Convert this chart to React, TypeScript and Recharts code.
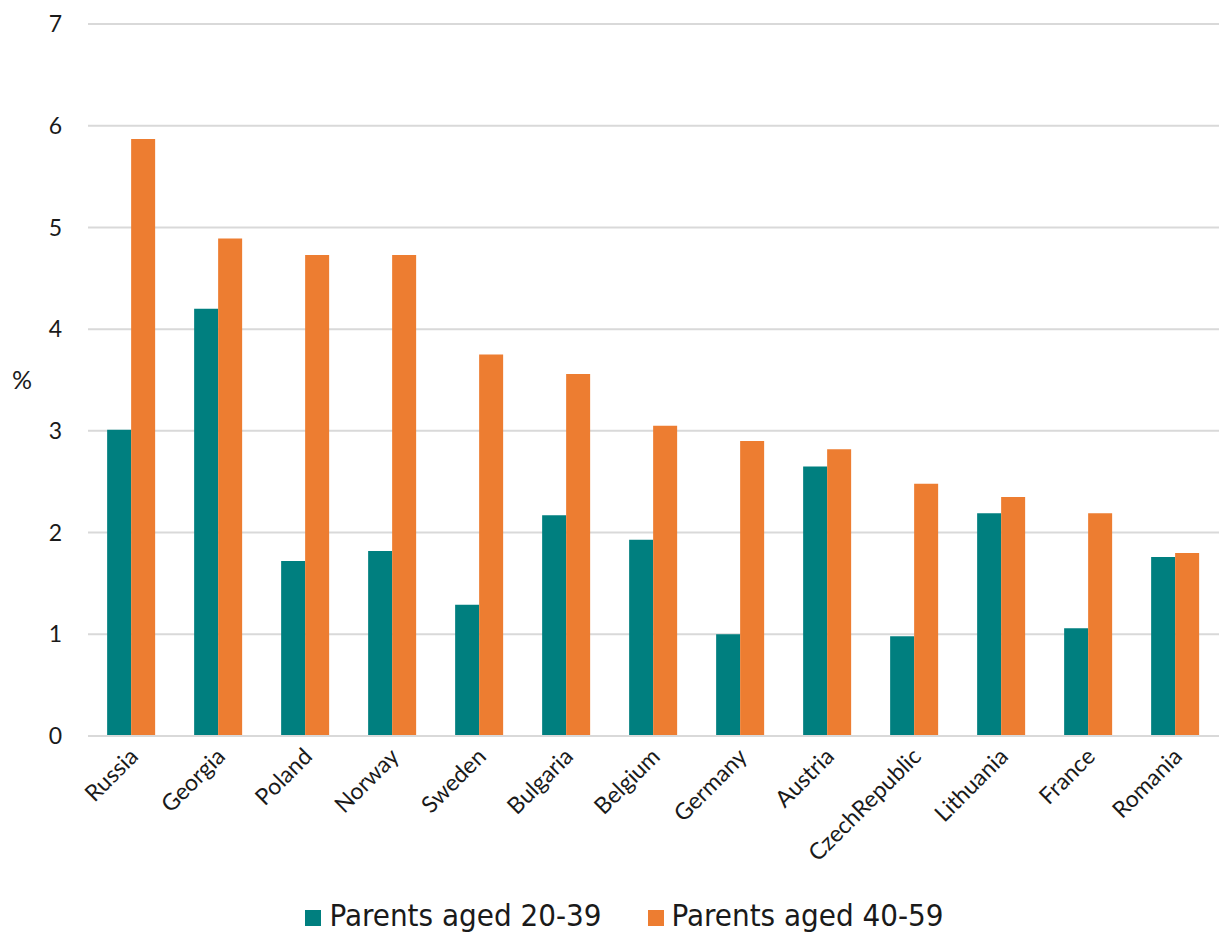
import { BarChart, Bar, XAxis, YAxis, CartesianGrid, Legend } from "recharts";

const countries = [
  "Russia", "Georgia", "Poland", "Norway", "Sweden", "Bulgaria", "Belgium",
  "Germany", "Austria", "CzechRepublic", "Lithuania", "France", "Romania",
];
const young = [3.01, 4.2, 1.72, 1.82, 1.29, 2.17, 1.93, 1.0, 2.65, 0.98, 2.19, 1.06, 1.76];
const older = [5.87, 4.89, 4.73, 4.73, 3.75, 3.56, 3.05, 2.9, 2.82, 2.48, 2.35, 2.19, 1.8];
const yTicks = [0, 1, 2, 3, 4, 5, 6, 7];

const data = countries.map((c, i) => ({ country: c, young: young[i], older: older[i] }));

const TEAL = "#007f7f";
const ORANGE = "#ed7d31";
const GRID = "#d9d9d9";

function CountryTick(props: any) {
  const { x, y, payload } = props;
  return (
    <g transform={`translate(${x + 8},${y + 14})`}>
      <text
        transform="rotate(-45)"
        textAnchor="end"
        fontFamily="Lato, 'Open Sans', sans-serif"
        fontSize={23}
        fill="#1a1a1a"
      >
        {payload.value}
      </text>
    </g>
  );
}

export default function App() {
  return (
    <div style={{ position: "absolute", left: 0, top: 0, background: "#fff" }}>
      <BarChart
        width={1219}
        height={932}
        data={data}
        margin={{ top: 24, right: 0, bottom: 0, left: 0 }}
        barCategoryGap="22%"
        barGap={0}
      >
        <CartesianGrid vertical={false} stroke={GRID} strokeWidth={2} />
        <XAxis
          dataKey="country"
          interval={0}
          height={146}
          tickLine={false}
          axisLine={{ stroke: GRID, strokeWidth: 2 }}
          tick={<CountryTick />}
        />
        <YAxis
          width={88}
          domain={[0, 7]}
          ticks={yTicks}
          tickLine={false}
          axisLine={false}
          tickMargin={20}
          tick={{ fontFamily: "Lato, 'Open Sans', sans-serif", fontSize: 23, fill: "#1a1a1a" }}
          label={{
            value: "%",
            position: "insideLeft",
            offset: 12,
            angle: 0,
            style: { fontFamily: "Lato, sans-serif", fontSize: 25, fill: "#1a1a1a" },
          }}
        />
        <Legend
          height={50}
          iconType="square"
          iconSize={16}
          wrapperStyle={{
            top: 897,
            paddingLeft: 38,
            fontFamily: "'Liberation Sans Narrow', 'DejaVu Sans Condensed', sans-serif",
            fontSize: 31,
            color: "#1a1a1a",
          }}
          formatter={(v: string) => (
            <span style={{ color: "#1a1a1a", marginLeft: 4, marginRight: 36 }}>{v}</span>
          )}
        />
        <Bar dataKey="young" name="Parents aged 20-39" fill={TEAL} isAnimationActive={false} />
        <Bar dataKey="older" name="Parents aged 40-59" fill={ORANGE} isAnimationActive={false} />
      </BarChart>
    </div>
  );
}
